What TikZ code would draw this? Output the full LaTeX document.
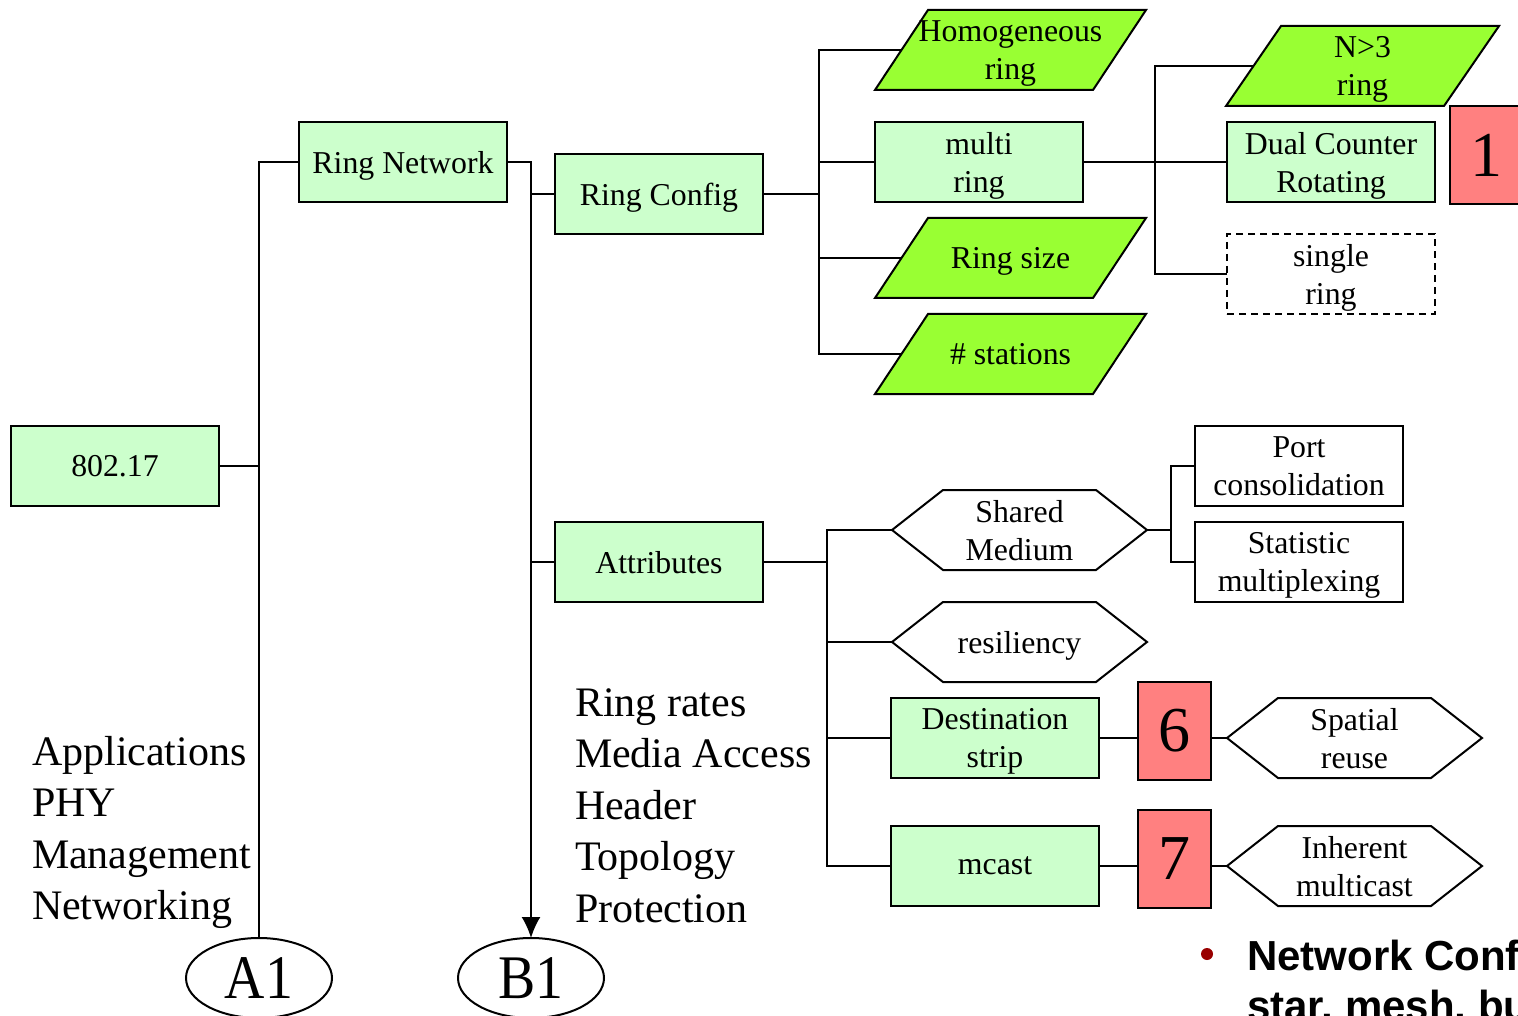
\documentclass[tikz,border=0pt]{standalone}
\usepackage{fontspec}
\setmainfont{Liberation Serif}
\newfontfamily\headsans{Liberation Sans}
\usetikzlibrary{shapes.geometric,arrows.meta,calc,backgrounds}

\definecolor{paleg}{HTML}{CCFFCC}
\definecolor{limeg}{HTML}{99FF33}
\definecolor{salmon}{HTML}{FF8080}
\definecolor{bulletred}{HTML}{990000}

\tikzset{
  every node/.style={outer sep=0pt},
  wire/.style={line width=2pt},
  boxtext/.style={font=\fontsize{31.8}{38}\selectfont, align=center, inner sep=0pt, text depth=0pt},
  greenbox/.style={boxtext, draw, line width=2pt, fill=paleg, minimum width=208, minimum height=80},
  whitebox/.style={boxtext, draw, line width=2pt, fill=white, minimum width=208, minimum height=80},
  dashbox/.style={whitebox, dash pattern=on 7pt off 5pt},
  numbox/.style={draw, line width=2pt, fill=salmon, minimum width=73, minimum height=98,
                 inner sep=0pt, font=\fontsize{64}{64}\selectfont},
  slantbody/.style={boxtext, minimum width=218, minimum height=80},
  hexbody/.style={boxtext, minimum width=255, minimum height=80},
  shapeedge/.style={line width=2pt, draw=black, line join=miter},
  listtext/.style={font=\fontsize{42}{51}\selectfont, anchor=base west, inner sep=0pt},
  oval/.style={ellipse, draw, line width=2pt, minimum width=146, minimum height=80,
               inner sep=0pt, font=\fontsize{62}{62}\selectfont},
  bigsans/.style={font=\headsans\bfseries\fontsize{42}{45}\selectfont, anchor=base west, inner sep=0pt},
}

% parallelogram drawn behind a text node; #2 = half of the horizontal slant
\newcommand\slantframe[2]{%
  \begin{scope}[on background layer]
    \filldraw[shapeedge, fill=limeg]
      ($(#1.south west)+(-#2,0)$) -- ($(#1.north west)+(#2,0)$) --
      ($(#1.north east)+(#2,0)$) -- ($(#1.south east)+(-#2,0)$) -- cycle;
  \end{scope}}

% pointed hexagon drawn behind a text node; #2 = depth of the points
\newcommand\hexframe[2]{%
  \begin{scope}[on background layer]
    \filldraw[shapeedge, fill=white]
      (#1.west) -- ($(#1.north west)+(#2,0)$) -- ($(#1.north east)+(-#2,0)$) --
      (#1.east) -- ($(#1.south east)+(-#2,0)$) -- ($(#1.south west)+(#2,0)$) -- cycle;
  \end{scope}}

\begin{document}
\begin{tikzpicture}[x=1pt, y=-1pt]
\useasboundingbox (0,0) rectangle (1518,1016);
\clip (0,0) rectangle (1518,1016);

% main tree
\node[greenbox] (root) at (115,466) {802.17};
\node[greenbox] (ringnet) at (403,162) {Ring Network};
\node[greenbox] (ringcfg) at (659,194) {Ring Config};
\node[greenbox] (attr) at (659,562) {Attributes};

% ring configuration branch
\node[slantbody] (homog) at (1010.5,50) {Homogeneous\\ring};
\node[greenbox] (multi) at (979,162) {multi\\ring};
\node[slantbody] (rsize) at (1010.5,258) {Ring size};
\node[slantbody] (stations) at (1010.5,354) {\# stations};
\slantframe{homog}{26.5}
\slantframe{rsize}{26.5}
\slantframe{stations}{26.5}

\node[slantbody] (nthree) at (1362.5,66) {N>3\\ring};
\slantframe{nthree}{27.5}
\node[greenbox] (dual) at (1331,162) {Dual Counter\\Rotating};
\node[dashbox] (single) at (1331,274) {single\\ring};
\node[numbox] (one) at (1486.5,155) {1};

% attributes branch
\node[hexbody] (shared) at (1019.5,530) {Shared\\Medium};
\node[hexbody] (resil) at (1019.5,642) {resiliency};
\hexframe{shared}{51}
\hexframe{resil}{51}
\node[whitebox] (port) at (1299,466) {Port\\consolidation};
\node[whitebox] (stat) at (1299,562) {Statistic\\multiplexing};
\node[greenbox] (dest) at (995,738) {Destination\\strip};
\node[greenbox] (mcast) at (995,866) {mcast};
\node[numbox] (six) at (1174.5,731) {6};
\node[numbox] (seven) at (1174.5,859) {7};
\node[hexbody] (spatial) at (1354.5,738) {Spatial\\reuse};
\node[hexbody] (inher) at (1354.5,866) {Inherent\\multicast};
\hexframe{spatial}{51}
\hexframe{inher}{51}

% off-page connectors
\node[oval] (A1) at (259,978) {\scalebox{0.9}[1]{A1}};
\node[oval] (B1) at (531,978) {\scalebox{0.9}[1]{B1}};

% connectors
\draw[wire] (root.east) -- (root.east -| A1.north);
\draw[wire] (ringnet.west) -| (A1.north);
\draw[wire, -{Latex[length=21pt,width=19pt]}] (ringnet.east) -| (B1.north);
\draw[wire] (ringcfg.west) -- (ringcfg.west -| B1.north);
\draw[wire] (attr.west) -- (attr.west -| B1.north);

\coordinate (cfgjoin) at (819,194);
\draw[wire] (ringcfg.east) -- (cfgjoin);
\draw[wire] (cfgjoin) |- (homog.west);
\draw[wire] (cfgjoin) |- (multi.west);
\draw[wire] (cfgjoin) |- (rsize.west);
\draw[wire] (cfgjoin) |- (stations.west);

\coordinate (multijoin) at (1155,162);
\draw[wire] (multi.east) -- (dual.west);
\draw[wire] (multijoin) |- (nthree.west);
\draw[wire] (multijoin) |- (single.west);

\coordinate (attrjoin) at (827,562);
\draw[wire] (attr.east) -- (attrjoin);
\draw[wire] (attrjoin) |- (shared.west);
\draw[wire] (attrjoin) |- (resil.west);
\draw[wire] (attrjoin) |- (dest.west);
\draw[wire] (attrjoin) |- (mcast.west);

\coordinate (sharedjoin) at (1171,530);
\draw[wire] (shared.east) -- (sharedjoin);
\draw[wire] (sharedjoin) |- (port.west);
\draw[wire] (sharedjoin) |- (stat.west);

\draw[wire] (dest.east) -- (dest.east -| six.west);
\draw[wire] (six.east |- spatial.west) -- (spatial.west);
\draw[wire] (mcast.east) -- (mcast.east -| seven.west);
\draw[wire] (seven.east |- inher.west) -- (inher.west);

% topic lists
\node[listtext] (lapp) at (32,765) {Applications};
\node[listtext] (lphy) at (32,816.5) {PHY};
\node[listtext] (lmgmt) at (32,868) {Management};
\node[listtext] (lnet) at (32,919.5) {Networking};

\node[listtext] (rrates) at (575,716) {Ring rates};
\node[listtext] (rmac) at (575,767.5) {Media Access};
\node[listtext] (rhdr) at (575,819) {Header};
\node[listtext] (rtopo) at (575,870.5) {Topology};
\node[listtext] (rprot) at (575,922) {Protection};

% bullet point
\node[circle, fill=bulletred, minimum size=12, inner sep=0pt] (bullet) at (1207,954) {};
\node[bigsans] (netconf) at (1247,970) {Network Configuration};
\node[bigsans] (netkinds) at (1247,1020) {star, mesh, bus};
\end{tikzpicture}
\end{document}
